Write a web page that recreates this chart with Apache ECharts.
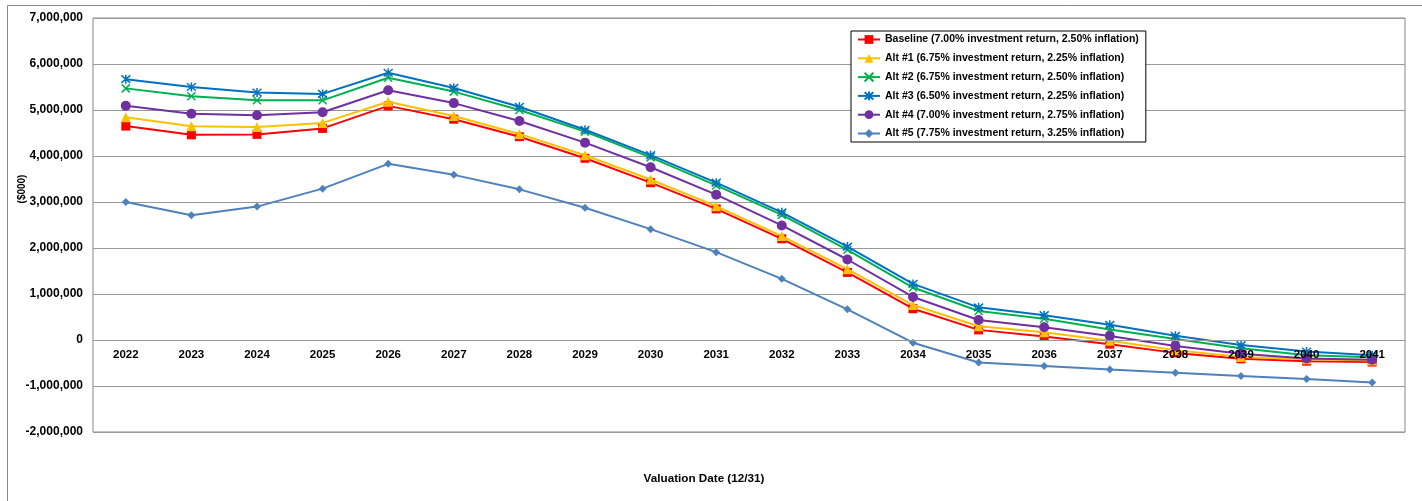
<!DOCTYPE html>
<html>
<head>
<meta charset="utf-8">
<script src="https://cdn.jsdelivr.net/npm/echarts@6/dist/echarts.min.js"></script>
<style>
html,body{margin:0;padding:0;background:#fff;}
#chart{width:1422px;height:501px;}
</style>
</head>
<body>
<div id="chart"></div>
<script>
const categories = ['2022','2023','2024','2025','2026','2027','2028','2029','2030','2031','2032','2033','2034','2035','2036','2037','2038','2039','2040','2041'];
const seriesNames = [
  'Baseline (7.00% investment return, 2.50% inflation)',
  'Alt #1 (6.75% investment return, 2.25% inflation)',
  'Alt #2 (6.75% investment return, 2.50% inflation)',
  'Alt #3 (6.50% investment return, 2.25% inflation)',
  'Alt #4 (7.00% investment return, 2.75% inflation)',
  'Alt #5 (7.75% investment return, 3.25% inflation)'
];
const baseline = [4650000,4460000,4470000,4600000,5090000,4800000,4420000,3950000,3420000,2850000,2200000,1470000,680000,220000,75000,-90000,-280000,-410000,-460000,-480000];
const alt1 = [4840000,4645000,4630000,4720000,5180000,4870000,4480000,4015000,3490000,2910000,2260000,1540000,760000,300000,170000,-15000,-220000,-370000,-420000,-445000];
const alt2 = [5470000,5300000,5210000,5210000,5700000,5400000,5000000,4530000,3970000,3360000,2720000,1960000,1140000,630000,460000,230000,20000,-180000,-330000,-375000];
const alt3 = [5670000,5500000,5380000,5350000,5810000,5480000,5070000,4570000,4020000,3420000,2775000,2030000,1220000,710000,540000,330000,90000,-110000,-250000,-330000];
const alt4 = [5090000,4920000,4885000,4950000,5430000,5150000,4760000,4290000,3755000,3160000,2490000,1750000,935000,435000,276000,87000,-130000,-300000,-400000,-430000];
const alt5 = [3000000,2710000,2900000,3290000,3830000,3590000,3275000,2875000,2410000,1910000,1330000,667000,-58000,-490000,-565000,-640000,-710000,-780000,-850000,-925000];
const yTicks = {min:-2000000, max:7000000, interval:1000000};

const colors = ['#FF0000','#FFC000','#00B050','#0070C0','#7030A0','#4F81BD'];
const xPath = 'path://M0,0L10,10M10,0L0,10';
const starPath = 'path://M0,0L10,10M10,0L0,10M5,-1L5,11';
const symbols = ['rect','triangle',xPath,starPath,'circle','diamond'];
const sizes = [9,10,8,9,10,8];
const allData = [baseline,alt1,alt2,alt3,alt4,alt5];
const font = '"Liberation Sans", Arial, sans-serif';

const series = allData.map((d,i)=>({
  name: seriesNames[i],
  type: 'line',
  data: d,
  symbol: symbols[i],
  symbolSize: sizes[i],
  showAllSymbol: true,
  lineStyle: {color: colors[i], width: 2},
  itemStyle: (i===2||i===3) ? {color: 'rgba(0,0,0,0)', borderColor: colors[i], borderWidth: 1.5} : {color: colors[i]},
  emphasis: {disabled: true},
  z: 2 + i
}));

const chart = echarts.init(document.getElementById('chart'));
chart.setOption({
  animation: false,
  backgroundColor: '#fff',
  grid: {left: 93, right: 17, top: 18, bottom: 69, show: true, borderColor: '#888', borderWidth: 1},
  legend: {
    orient: 'vertical',
    left: 851, top: 31,
    padding: [3, 7, 3, 6],
    itemWidth: 22, itemHeight: 11, itemGap: 7.8,
    borderColor: '#000', borderWidth: 1, backgroundColor: '#fff',
    textStyle: {fontFamily: font, fontWeight: 'bold', fontSize: 10.5, color: '#000'},
    data: seriesNames,
    z: 20
  },
  xAxis: {
    type: 'category',
    data: categories,
    boundaryGap: true,
    offset: -92,
    z: 15,
    axisLine: {show: true, onZero: false, lineStyle: {color: '#999', width: 1}},
    axisTick: {show: false},
    axisLabel: {fontFamily: font, fontWeight: 'bold', fontSize: 11.5, color: '#000', margin: 9, interval: 0},
    splitLine: {show: false}
  },
  yAxis: {
    type: 'value',
    min: yTicks.min, max: yTicks.max, interval: yTicks.interval,
    axisLine: {show: false},
    axisTick: {show: false},
    axisLabel: {fontFamily: font, fontWeight: 'bold', fontSize: 12, color: '#000', margin: 10,
      formatter: v => v.toLocaleString('en-US')},
    splitLine: {show: true, lineStyle: {color: '#999', width: 1}}
  },
  graphic: [
    {type: 'rect', shape: {x: 7.5, y: 5.5, width: 1500, height: 600}, style: {fill: 'none', stroke: '#888', lineWidth: 1}, silent: true, z: -10},
    {type: 'text', x: 22, y: 189, rotation: Math.PI/2, style: {text: '($000)', fontFamily: font, fontWeight: 'bold', fontSize: 10, fill: '#000', align: 'center', verticalAlign: 'middle'}},
    {type: 'text', x: 704, y: 479, style: {text: 'Valuation Date (12/31)', fontFamily: font, fontWeight: 'bold', fontSize: 11.7, fill: '#000', align: 'center', verticalAlign: 'middle'}}
  ],
  series: series
});
</script>
</body>
</html>
